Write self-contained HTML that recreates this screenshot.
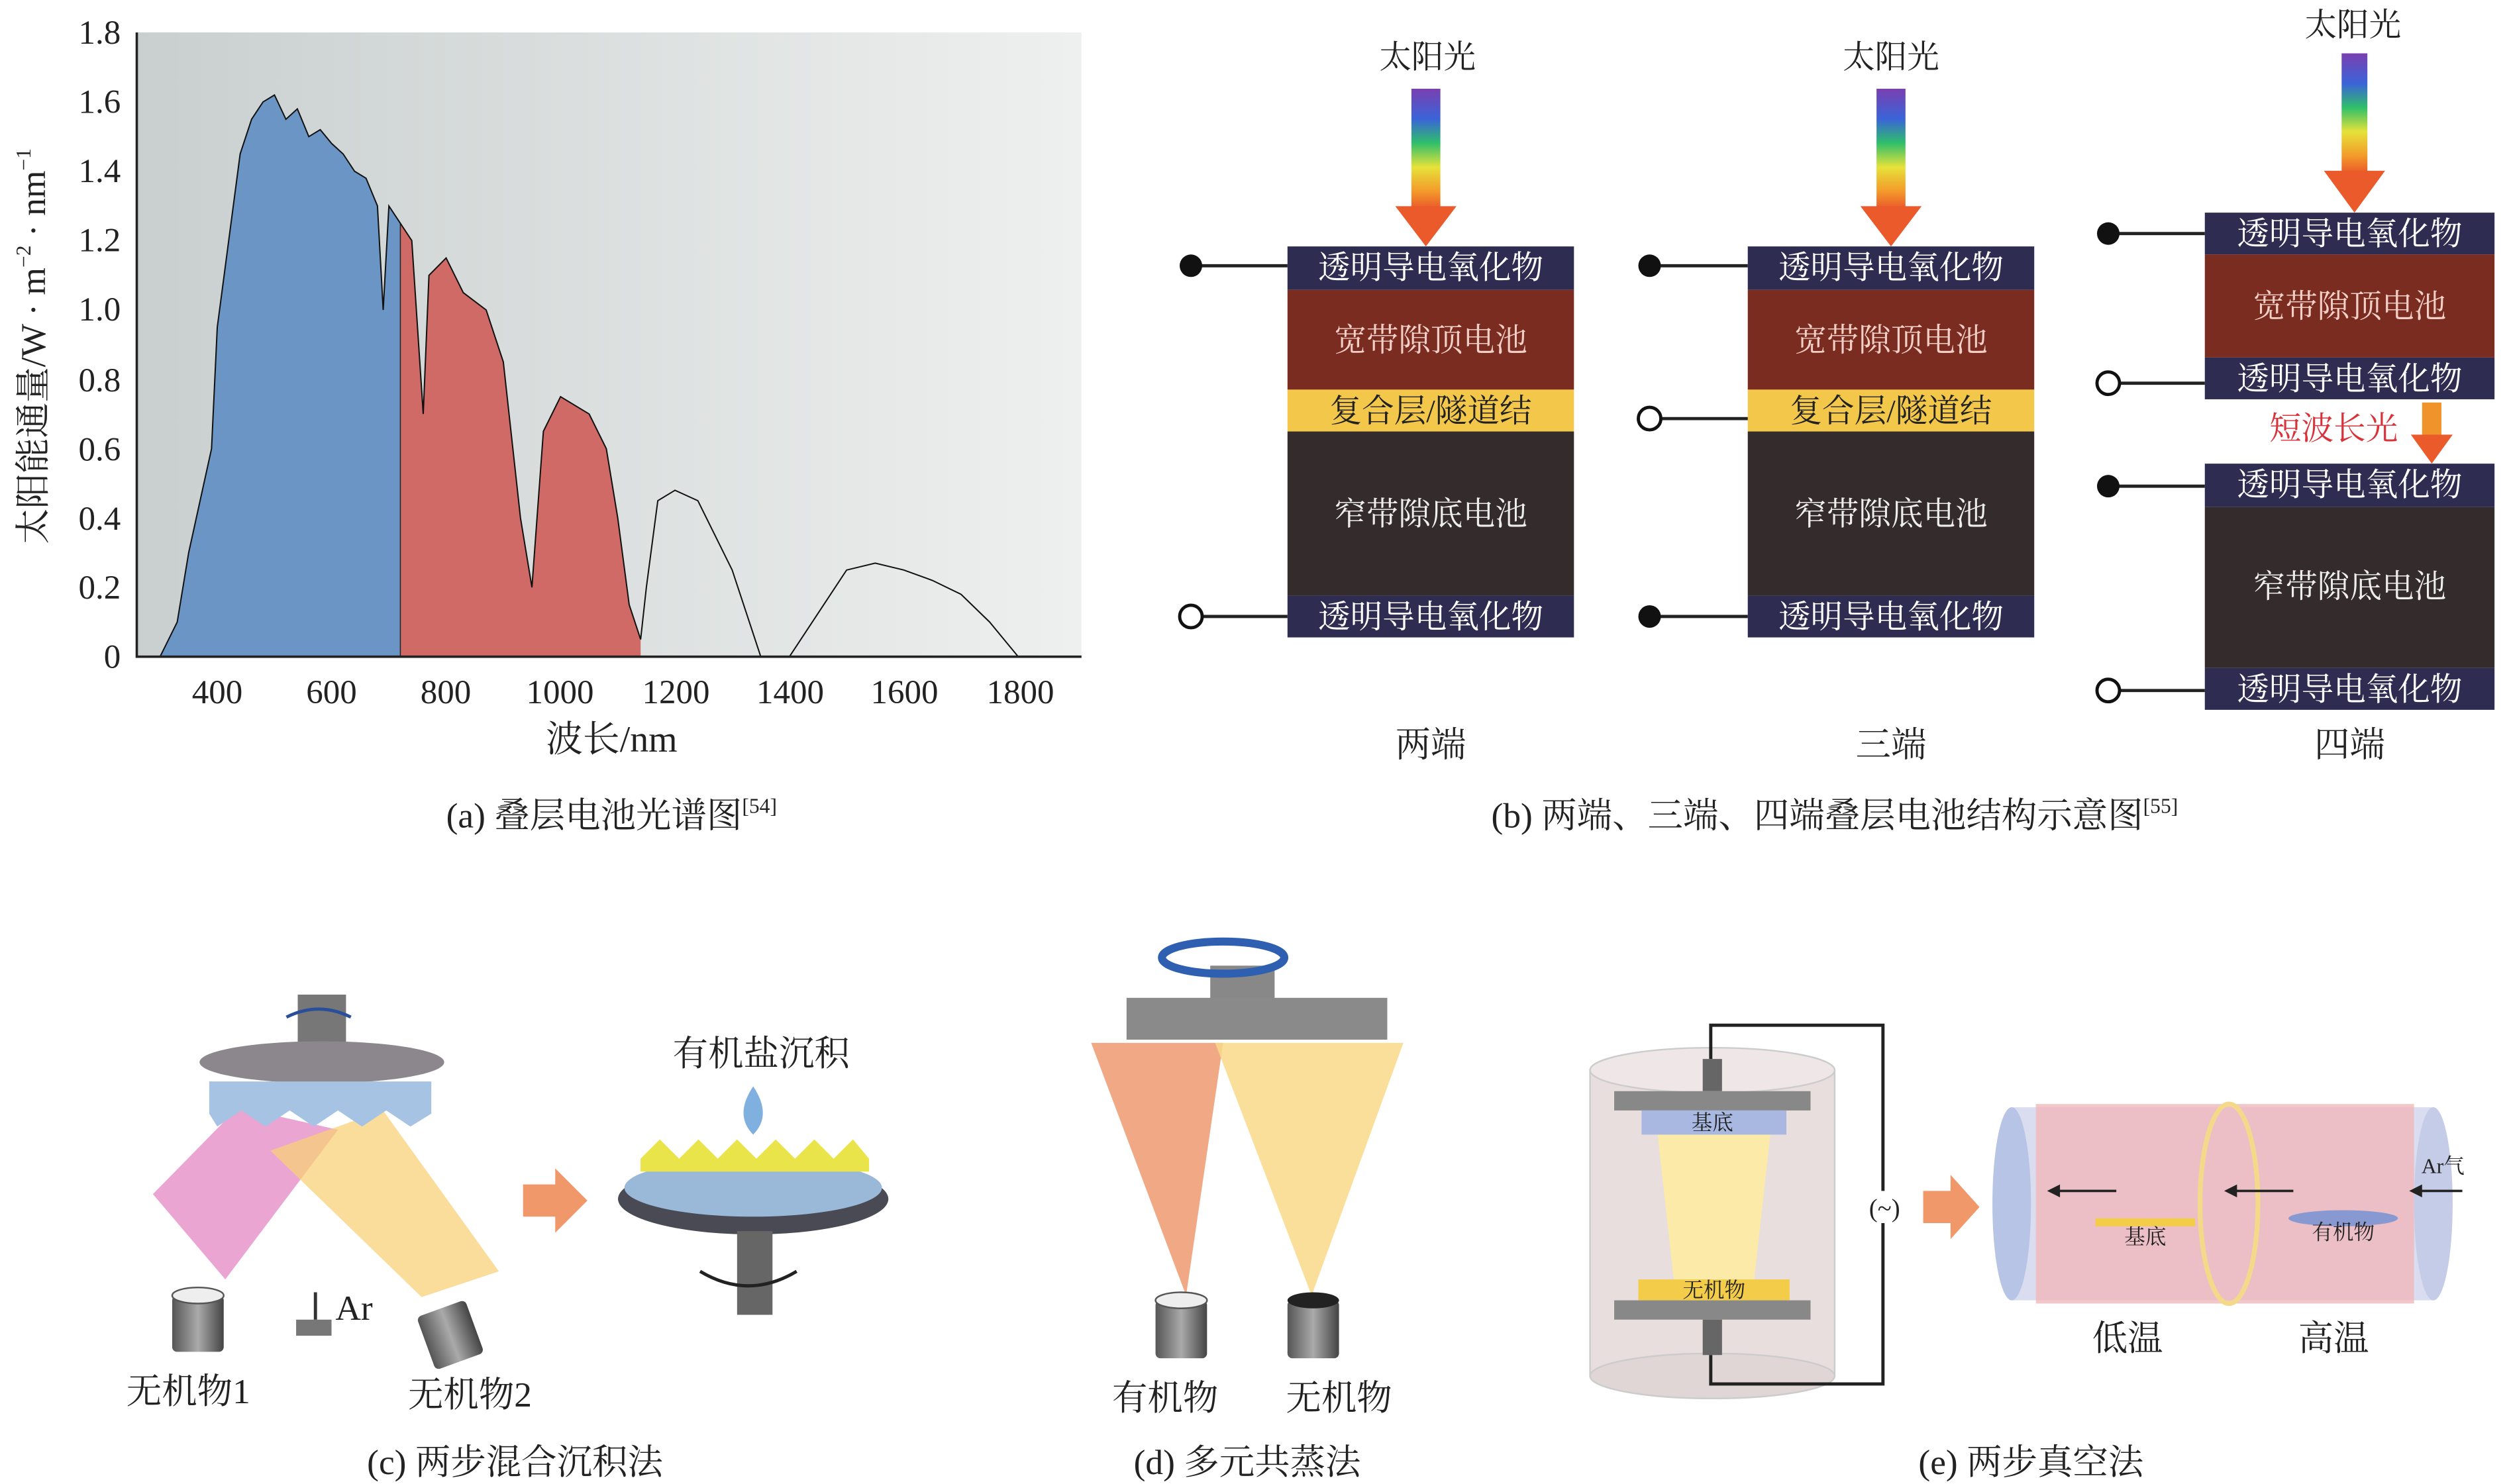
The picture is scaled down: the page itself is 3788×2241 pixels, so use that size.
<!DOCTYPE html>
<html><head><meta charset="utf-8"><style>
html,body{margin:0;padding:0;background:#fff}
svg{display:block}
text{font-family:"Liberation Serif","Noto Serif CJK SC",serif;fill:#222}
</style></head><body>
<svg width="3788" height="2241" viewBox="0 0 1559 922" xmlns="http://www.w3.org/2000/svg">
<defs>
<linearGradient id="bg" x1="0" x2="1" y1="0" y2="0"><stop offset="0" stop-color="#c9cfcf"/><stop offset="1" stop-color="#eef0ef"/></linearGradient>
<linearGradient id="rb" x1="0" x2="0" y1="0" y2="1"><stop offset="0" stop-color="#7a3fb0"/><stop offset=".25" stop-color="#3a64d8"/><stop offset=".45" stop-color="#2fbf6a"/><stop offset=".65" stop-color="#e6e23a"/><stop offset=".85" stop-color="#f39a2a"/><stop offset="1" stop-color="#e9552a"/></linearGradient>
<linearGradient id="cyl" x1="0" x2="1"><stop offset="0" stop-color="#555"/><stop offset=".5" stop-color="#aaa"/><stop offset="1" stop-color="#444"/></linearGradient>
</defs>
<rect x="85" y="20" width="587" height="388" fill="url(#bg)"/>
<g transform="matrix(0.3555 0 0 -215.5 -7.2 408)">
<polygon fill="#6b95c4" points="300,0 330,0.1 350,0.3 370,0.45 390,0.6 400,0.95 420,1.2 440,1.45 460,1.55 480,1.6 500,1.62 520,1.55 540,1.58 560,1.5 580,1.52 600,1.48 620,1.45 640,1.4 660,1.38 680,1.3 690,1.0 700,1.3 720,1.25 720,0"/>
<polygon fill="#cf6a66" points="720,0 720,1.25 740,1.2 760,0.7 770,1.1 800,1.15 830,1.05 870,1.0 900,0.85 930,0.4 950,0.2 970,0.65 1000,0.75 1050,0.7 1080,0.6 1100,0.4 1120,0.15 1140,0.05 1140,0"/>
<line x1="720" y1="0" x2="720" y2="1.25" stroke="#222" stroke-width="1.5" vector-effect="non-scaling-stroke"/>
<polyline fill="none" stroke="#111" stroke-width="2" vector-effect="non-scaling-stroke" points="300,0 330,0.1 350,0.3 370,0.45 390,0.6 400,0.95 420,1.2 440,1.45 460,1.55 480,1.6 500,1.62 520,1.55 540,1.58 560,1.5 580,1.52 600,1.48 620,1.45 640,1.4 660,1.38 680,1.3 690,1.0 700,1.3 720,1.25 740,1.2 760,0.7 770,1.1 800,1.15 830,1.05 870,1.0 900,0.85 930,0.4 950,0.2 970,0.65 1000,0.75 1050,0.7 1080,0.6 1100,0.4 1120,0.15 1140,0.05 1150,0.2 1170,0.45 1200,0.48 1240,0.45 1270,0.35 1300,0.25 1330,0.1 1350,0 1400,0 1420,0.05 1460,0.15 1500,0.25 1550,0.27 1600,0.25 1650,0.22 1700,0.18 1750,0.1 1790,0.02 1800,0"/>
</g>
<path d="M85 20 V408 H672" fill="none" stroke="#222" stroke-width="1.5"/>
<g font-size="21" text-anchor="end">
<text x="75" y="27">1.8</text><text x="75" y="70">1.6</text><text x="75" y="113">1.4</text><text x="75" y="156">1.2</text><text x="75" y="199">1.0</text><text x="75" y="243">0.8</text><text x="75" y="286">0.6</text><text x="75" y="329">0.4</text><text x="75" y="372">0.2</text><text x="75" y="415">0</text>
</g>
<g font-size="21" text-anchor="middle">
<text x="135" y="437">400</text><text x="206" y="437">600</text><text x="277" y="437">800</text><text x="348" y="437">1000</text><text x="420" y="437">1200</text><text x="491" y="437">1400</text><text x="562" y="437">1600</text><text x="634" y="437">1800</text>
<text x="380" y="467" font-size="23">波长/nm</text>
<text x="380" y="514" font-size="22">(a) 叠层电池光谱图<tspan font-size="13" dy="-9">[54]</tspan></text>
</g>
<text transform="translate(28 215) rotate(-90)" font-size="22" text-anchor="middle">太阳能通量/W · m<tspan font-size="13" dy="-9">−2</tspan><tspan dy="9"> · nm</tspan><tspan font-size="13" dy="-9">−1</tspan></text>

<g font-size="20" text-anchor="middle">
<text x="887" y="42">太阳光</text>
<rect x="877" y="55" width="18" height="75" fill="url(#rb)"/><polygon points="867,128 905,128 886,153" fill="#ea5a2a"/>
<rect x="800" y="153" width="178" height="27" fill="#2f2c52"/><text x="889" y="173" style="fill:#fff">透明导电氧化物</text>
<rect x="800" y="180" width="178" height="62" fill="#7b2c20"/><text x="889" y="218" style="fill:#f2d0c8">宽带隙顶电池</text>
<rect x="800" y="242" width="178" height="26" fill="#f3c84a"/><text x="889" y="262">复合层/隧道结</text>
<rect x="800" y="268" width="178" height="102" fill="#342c2c"/><text x="889" y="326" style="fill:#eee">窄带隙底电池</text>
<rect x="800" y="370" width="178" height="26" fill="#2f2c52"/><text x="889" y="390" style="fill:#fff">透明导电氧化物</text>
<line x1="740" y1="165" x2="800" y2="165" stroke="#222" stroke-width="2"/><circle cx="740" cy="165" r="7" fill="#111"/>
<line x1="740" y1="383" x2="800" y2="383" stroke="#222" stroke-width="2"/><circle cx="740" cy="383" r="7" fill="#fff" stroke="#111" stroke-width="2"/>
<text x="889" y="470" font-size="22">两端</text>
<text x="1175" y="42">太阳光</text>
<rect x="1166" y="55" width="18" height="75" fill="url(#rb)"/><polygon points="1156,128 1194,128 1175,153" fill="#ea5a2a"/>
<rect x="1086" y="153" width="178" height="27" fill="#2f2c52"/><text x="1175" y="173" style="fill:#fff">透明导电氧化物</text>
<rect x="1086" y="180" width="178" height="62" fill="#7b2c20"/><text x="1175" y="218" style="fill:#f2d0c8">宽带隙顶电池</text>
<rect x="1086" y="242" width="178" height="26" fill="#f3c84a"/><text x="1175" y="262">复合层/隧道结</text>
<rect x="1086" y="268" width="178" height="102" fill="#342c2c"/><text x="1175" y="326" style="fill:#eee">窄带隙底电池</text>
<rect x="1086" y="370" width="178" height="26" fill="#2f2c52"/><text x="1175" y="390" style="fill:#fff">透明导电氧化物</text>
<line x1="1025" y1="165" x2="1086" y2="165" stroke="#222" stroke-width="2"/><circle cx="1025" cy="165" r="7" fill="#111"/>
<line x1="1025" y1="260" x2="1086" y2="260" stroke="#222" stroke-width="2"/><circle cx="1025" cy="260" r="7" fill="#fff" stroke="#111" stroke-width="2"/>
<line x1="1025" y1="383" x2="1086" y2="383" stroke="#222" stroke-width="2"/><circle cx="1025" cy="383" r="7" fill="#111"/>
<text x="1175" y="470" font-size="22">三端</text>
<text x="1462" y="22">太阳光</text>
<rect x="1455" y="33" width="16" height="75" fill="url(#rb)"/><polygon points="1444,106 1482,106 1463,132" fill="#ea5a2a"/>
<rect x="1370" y="132" width="180" height="26" fill="#2f2c52"/><text x="1460" y="152" style="fill:#fff">透明导电氧化物</text>
<rect x="1370" y="158" width="180" height="64" fill="#7b2c20"/><text x="1460" y="197" style="fill:#f2d0c8">宽带隙顶电池</text>
<rect x="1370" y="222" width="180" height="26" fill="#2f2c52"/><text x="1460" y="242" style="fill:#fff">透明导电氧化物</text>
<text x="1450" y="273" style="fill:#d8333a">短波长光</text>
<rect x="1505" y="250" width="12" height="22" fill="#f0932a"/><polygon points="1498,270 1524,270 1511,288" fill="#ea5a2a"/>
<rect x="1370" y="288" width="180" height="27" fill="#2f2c52"/><text x="1460" y="308" style="fill:#fff">透明导电氧化物</text>
<rect x="1370" y="315" width="180" height="100" fill="#342c2c"/><text x="1460" y="371" style="fill:#eee">窄带隙底电池</text>
<rect x="1370" y="415" width="180" height="26" fill="#2f2c52"/><text x="1460" y="435" style="fill:#fff">透明导电氧化物</text>
<line x1="1310" y1="145" x2="1370" y2="145" stroke="#222" stroke-width="2"/><circle cx="1310" cy="145" r="7" fill="#111"/>
<line x1="1310" y1="238" x2="1370" y2="238" stroke="#222" stroke-width="2"/><circle cx="1310" cy="238" r="7" fill="#fff" stroke="#111" stroke-width="2"/>
<line x1="1310" y1="302" x2="1370" y2="302" stroke="#222" stroke-width="2"/><circle cx="1310" cy="302" r="7" fill="#111"/>
<line x1="1310" y1="429" x2="1370" y2="429" stroke="#222" stroke-width="2"/><circle cx="1310" cy="429" r="7" fill="#fff" stroke="#111" stroke-width="2"/>
<text x="1460" y="470" font-size="22">四端</text>
<text x="1140" y="514" font-size="22">(b) 两端、三端、四端叠层电池结构示意图<tspan font-size="13" dy="-9">[55]</tspan></text>
</g>

<polygon points="95,742 148,688 210,702 140,795" fill="#e58fc8" opacity=".8"/>
<polygon points="168,715 238,690 310,790 262,806" fill="#f8d07a" opacity=".75"/>
<rect x="185" y="618" width="30" height="34" fill="#777"/>
<ellipse cx="200" cy="660" rx="76" ry="13" fill="#8c878c"/>
<path d="M130 672 H268 V692 L255 700 L240 690 L225 700 L210 690 L195 700 L180 690 L165 700 L150 690 L135 700 L130 692Z" fill="#a7c3e3"/>
<path d="M178 632 q20 -10 40 0" stroke="#2a4f9a" stroke-width="2" fill="none"/>
<rect x="107" y="805" width="32" height="35" rx="3" fill="url(#cyl)"/><ellipse cx="123" cy="805" rx="16" ry="5" fill="#eee" stroke="#555"/>
<rect x="264" y="812" width="32" height="35" rx="3" fill="url(#cyl)" transform="rotate(-20 280 830)"/>
<rect x="184" y="820" width="22" height="10" fill="#777"/><line x1="196" y1="803" x2="196" y2="820" stroke="#333" stroke-width="2"/>
<g font-size="22" text-anchor="middle">
<text x="220" y="820">Ar</text>
<text x="117" y="872">无机物1</text><text x="292" y="874">无机物2</text>
<text x="473" y="662">有机盐沉积</text>
<text x="320" y="916">(c) 两步混合沉积法</text>
<text x="775" y="916">(d) 多元共蒸法</text>
<text x="724" y="876">有机物</text><text x="832" y="876">无机物</text>
<text x="1262" y="916">(e) 两步真空法</text>
<text x="1322" y="839">低温</text><text x="1450" y="839">高温</text>
</g>
<polygon points="325,736 345,736 345,726 365,746 345,766 345,756 325,756" fill="#f0986a"/>
<path d="M468 675 q-12 18 0 30 q12 -12 0 -30Z" fill="#7fb0e0"/>
<ellipse cx="468" cy="745" rx="84" ry="22" fill="#4a4a55"/>
<ellipse cx="468" cy="738" rx="80" ry="18" fill="#9ab8d8"/>
<path d="M398 720 L410 708 L422 720 L434 708 L446 720 L458 708 L470 720 L482 708 L494 720 L506 708 L518 720 L530 708 L540 720 L540 728 L398 728Z" fill="#e8e44a"/>
<rect x="458" y="765" width="22" height="52" fill="#666"/>
<path d="M435 790 q30 18 60 0" stroke="#222" stroke-width="2" fill="none"/>

<polygon points="678,648 760,648 737,805" fill="#f0a078" opacity=".9"/>
<polygon points="755,648 872,648 815,805" fill="#f9d98a" opacity=".85"/>
<rect x="752" y="600" width="40" height="22" fill="#888"/>
<rect x="700" y="620" width="162" height="26" fill="#8a8a8a"/>
<ellipse cx="760" cy="595" rx="38" ry="10" stroke="#2f5fb0" stroke-width="5" fill="none"/>
<rect x="718" y="808" width="32" height="36" rx="3" fill="url(#cyl)"/><ellipse cx="734" cy="808" rx="16" ry="5" fill="#eee" stroke="#555"/>
<rect x="800" y="808" width="32" height="36" rx="3" fill="url(#cyl)"/><ellipse cx="816" cy="808" rx="16" ry="5" fill="#222"/>

<rect x="988" y="665" width="152" height="190" fill="#e8dede" stroke="#ccc"/>
<ellipse cx="1064" cy="665" rx="76" ry="14" fill="#efe7e7" stroke="#ccc"/>
<ellipse cx="1064" cy="855" rx="76" ry="14" fill="#e0d6d6" stroke="#ccc"/>
<polygon points="1030,705 1100,705 1090,795 1040,795" fill="#fbeaa8"/>
<rect x="1058" y="658" width="12" height="20" fill="#666"/>
<rect x="1003" y="678" width="122" height="12" fill="#888"/>
<rect x="1020" y="690" width="90" height="15" fill="#a8b8e0"/>
<rect x="1018" y="795" width="94" height="13" fill="#f3cd4a"/>
<rect x="1003" y="808" width="122" height="12" fill="#888"/>
<rect x="1058" y="820" width="12" height="22" fill="#666"/>
<path d="M1063 658 V637 H1170 V860 H1063 V842" stroke="#222" stroke-width="2" fill="none"/>
<rect x="1160" y="740" width="22" height="20" fill="#fff"/>
<text x="1171" y="756" font-size="16" text-anchor="middle">(~)</text>
<polygon points="1195,740 1212,740 1212,730 1230,750 1212,770 1212,760 1195,760" fill="#f0986a"/>
<rect x="1250" y="688" width="262" height="120" fill="#c9cfe8" opacity=".7"/>
<ellipse cx="1250" cy="748" rx="12" ry="60" fill="#b8c4e6"/>
<rect x="1265" y="686" width="235" height="124" fill="#f0b8bc" opacity=".8"/>
<ellipse cx="1512" cy="748" rx="12" ry="60" fill="#c4cce8"/>
<ellipse cx="1385" cy="748" rx="18" ry="62" fill="none" stroke="#f5d98a" stroke-width="3"/>
<rect x="1302" y="757" width="62" height="5" fill="#f3cd4a"/>
<ellipse cx="1456" cy="757" rx="34" ry="5" fill="#8898d0"/>
<g stroke="#222" stroke-width="1.5"><line x1="1275" y1="740" x2="1315" y2="740"/><line x1="1385" y1="740" x2="1425" y2="740"/><line x1="1500" y1="740" x2="1530" y2="740"/></g>
<g fill="#222"><polygon points="1272,740 1280,736 1280,744"/><polygon points="1382,740 1390,736 1390,744"/><polygon points="1497,740 1505,736 1505,744"/></g>
<g font-size="13" text-anchor="middle"><text x="1064" y="702">基底</text><text x="1065" y="806">无机物</text>
<text x="1333" y="773">基底</text><text x="1456" y="770">有机物</text><text x="1518" y="729">Ar气</text></g>
</svg>
</body></html>
